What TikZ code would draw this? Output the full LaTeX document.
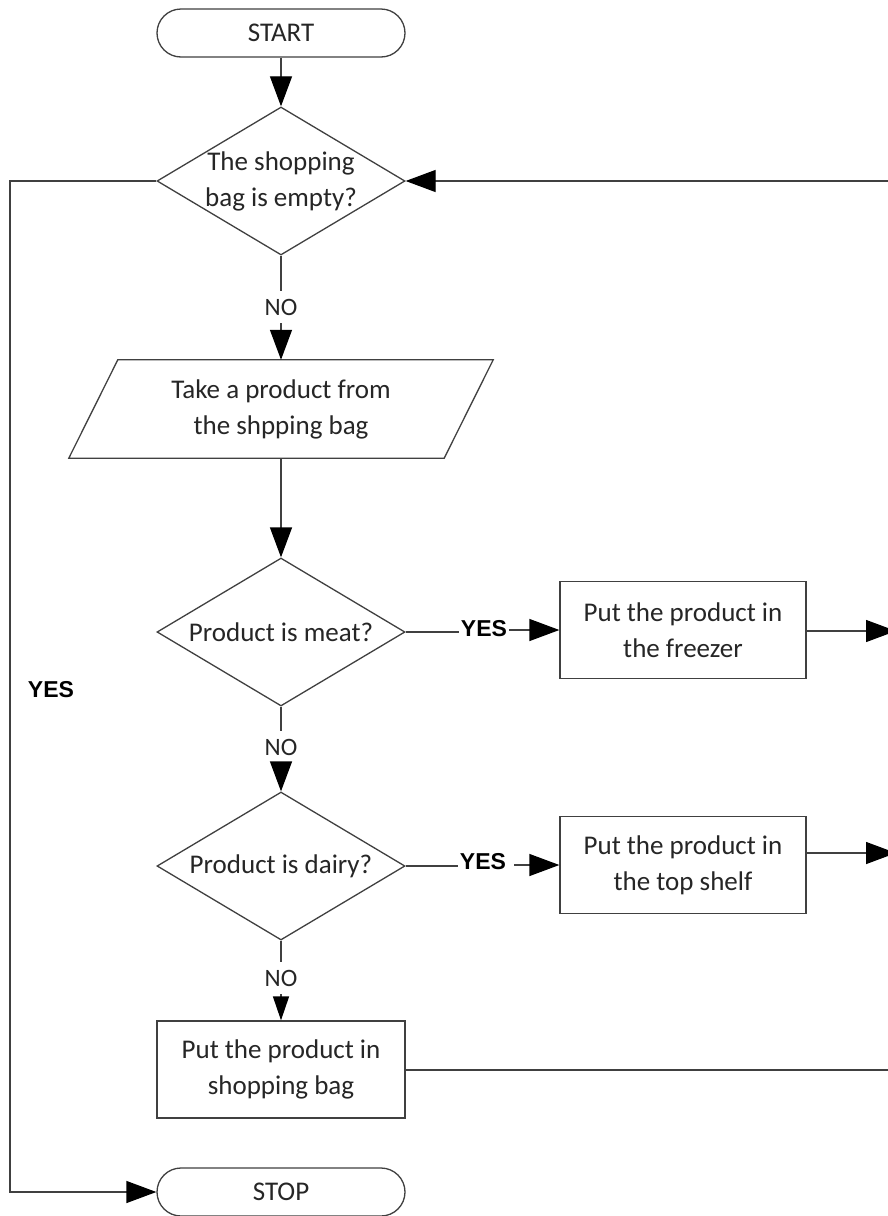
\documentclass[tikz,border=0pt]{standalone}
\usepackage{fontspec}
\setmainfont{Carlito}
\newfontfamily\yesfont{Liberation Sans}
\usetikzlibrary{shapes.geometric,arrows.meta}
\begin{document}
\begin{tikzpicture}[x=1pt,y=-1pt,
  line/.style={draw=black!75,line width=1.3pt},
  arr/.style={line,-{Triangle[length=30pt,width=22pt,black]}},
  arrsmall/.style={line,-{Triangle[length=24pt,width=16pt,black]}},
  txt/.style={text=black!85,font=\fontsize{27}{36}\selectfont,align=center},
  terminal/.style={line,rounded corners=24pt,minimum width=248pt,minimum height=48pt,inner sep=0pt,txt},
  decision/.style={line,shape=diamond,minimum width=248pt,minimum height=148pt,inner sep=0pt},
  process/.style={line,minimum width=246pt,minimum height=97pt,inner sep=0pt,txt},
  nolabel/.style={text=black!85,font=\fontsize{25}{30}\selectfont,inner xsep=2pt,inner ysep=8pt},
  yeslabel/.style={text=black,font=\yesfont\bfseries\fontsize{23}{28}\selectfont,inner sep=2pt}]
\useasboundingbox (0,0) rectangle (888,1216);
\clip (0,0) rectangle (888,1216);
\fill[white] (0,0) rectangle (888,1216);

% terminals
\node[terminal] (start) at (281,33) {START};
\node[terminal] (stop) at (281,1192) {STOP};

% decisions
\node[decision,label={[txt]center:The shopping\\bag is empty?}] (d1) at (281,181) {};
\node[decision,label={[txt]center:Product is meat?}] (d2) at (281,632) {};
\node[decision,label={[txt]center:Product is dairy?}] (d3) at (281,866) {};

% input step (parallelogram)
\node[txt,minimum width=375pt,minimum height=98pt,inner sep=0pt] (take) at (281,409)
  {Take a product from\\the shpping bag};
\draw[line] ([xshift=24.5pt]take.north west) -- ([xshift=24.5pt]take.north east)
  -- ([xshift=-24.5pt]take.south east) -- ([xshift=-24.5pt]take.south west) -- cycle;

% processes
\node[process] (box1) at (683,630) {Put the product in\\the freezer};
\node[process] (box2) at (683,865) {Put the product in\\the top shelf};
\node[process,minimum width=248pt] (box3) at (281,1069.5) {Put the product in\\shopping bag};

% labels
\node[nolabel] (no1) at (281,307) {NO};
\node[nolabel] (no2) at (281,747) {NO};
\node[nolabel] (no3) at (281,978) {NO};
\node[yeslabel] (yes1) at (484,629) {YES};
\node[yeslabel] (yes2) at (483,862) {YES};
\node[yeslabel] (yes0) at (51,690) {YES};

% free ends at the right and left margins
\coordinate (rt) at (888,181);
\coordinate (r1) at (896,631);
\coordinate (r2) at (896,853);
\coordinate (r3) at (888,1070);
\coordinate (lt) at (10,181);

% connectors
\draw[arr] (start) -- (d1);
\draw[line] (d1.south) -- (no1.north);
\draw[arr] (no1.south) -- (take.north);
\draw[arr] (take.south) -- (d2.north);
\draw[line] (d2.south) -- (no2.north);
\draw[arr] (no2.south) -- (d3.north);
\draw[line] (d3.south) -- (no3.north);
\draw[arrsmall] (no3.south) -- (box3.north);

\draw[line] (d2.east) -- (d2.east -| yes1.west);
\draw[arr] (yes1.east |- box1.west) -- (box1.west);
\draw[line] (d3.east) -- (d3.east -| yes2.west);
\draw[arr] ([xshift=6pt]yes2.east |- box2.west) -- (box2.west);

\draw[arr] (box1.east |- r1) -- (r1);
\draw[arr] (box2.east |- r2) -- (r2);
\draw[line] (box3.east |- r3) -- (r3);
\draw[arr] (rt) -- (d1.east);
\draw[arr] (d1.west) -- (lt) |- (stop.west);
\end{tikzpicture}
\end{document}
